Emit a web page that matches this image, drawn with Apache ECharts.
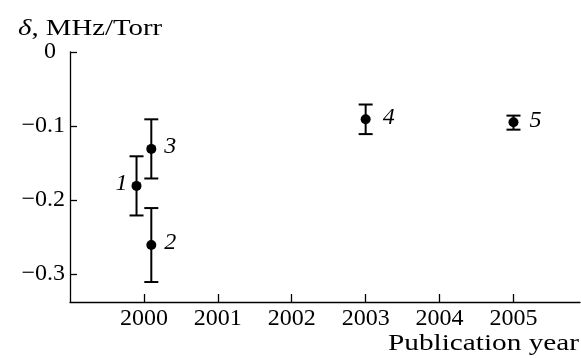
<!DOCTYPE html>
<html><head><meta charset="utf-8">
<script src="https://cdn.jsdelivr.net/npm/echarts@6/dist/echarts.min.js"></script>
<style>html,body{margin:0;padding:0;background:#fff}#c{width:581px;height:358px}</style>
</head><body><div id="c"></div>
<script>
// ---- data ----
const pointIds   = ['1', '2', '3', '4', '5'];
const years      = [1999.9, 2000.1, 2000.1, 2003.0, 2005.0];
const delta      = [-0.181, -0.261, -0.131, -0.091, -0.095];
const errLow     = [-0.221, -0.311, -0.171, -0.111, -0.105];
const errHigh    = [-0.141, -0.211, -0.091, -0.071, -0.086];
const xTickVals  = [2000, 2001, 2002, 2003, 2004, 2005];
const yTickVals  = [0, -0.1, -0.2, -0.3];
const yTickText  = ['0', '\u22120.1', '\u22120.2', '\u22120.3'];
const yTitle     = 'MHz/Torr';
const xTitle     = 'Publication year';

// ---- style (not data) ----
const FONT = 'Liberation Serif';
const labelOffsets = [-15, 19, 19, 23, 22];

const chart = echarts.init(document.getElementById('c'), null, {renderer: 'canvas'});
const seriesData = years.map((x, i) => [x, delta[i], errLow[i], errHigh[i], i]);

chart.setOption({
  animation: false,
  grid: {left: 70, right: 1, top: 52, bottom: 56},
  xAxis: {
    type: 'value', min: 1999, max: 2005.9,
    axisLine: {onZero: false, lineStyle: {color: '#000', width: 1.3}},
    axisTick: {inside: true, length: 8, customValues: xTickVals, lineStyle: {color: '#000', width: 1.3}},
    axisLabel: {customValues: xTickVals, color: '#000', fontFamily: FONT, fontSize: 24, margin: 5,
      formatter: v => String(Math.round(v))},
    splitLine: {show: false}
  },
  yAxis: {
    type: 'value', min: -0.338, max: 0,
    axisLine: {onZero: false, lineStyle: {color: '#000', width: 1.3}},
    axisTick: {inside: true, length: 7, customValues: yTickVals, lineStyle: {color: '#000', width: 1.3}},
    axisLabel: {
      customValues: yTickVals, color: '#000', fontFamily: FONT, fontSize: 24, margin: 5,
      formatter: v => {
        const k = yTickVals.findIndex(t => Math.abs(t - v) < 1e-6);
        if (k < 0) return '';
        return k === 0 ? '{z|' + yTickText[k] + '}' : yTickText[k];
      },
      rich: {z: {fontFamily: FONT, fontSize: 24, color: '#000', padding: [0, 9, 0, 0]}}
    },
    splitLine: {show: false}
  },
  graphic: [
    {type: 'text', left: 18, top: 17, scaleX: 1.2, style: {
      text: '{d|\u03B4}{n|, ' + yTitle + '}',
      rich: {
        d: {fontFamily: FONT, fontStyle: 'italic', fontSize: 24, fill: '#000'},
        n: {fontFamily: FONT, fontSize: 24, fill: '#000'}
      }
    }},
    {type: 'text', left: 388, top: 332, scaleX: 1.22, style: {text: xTitle, fontFamily: FONT, fontSize: 24, fill: '#000'}}
  ],
  series: [{
    type: 'custom',
    data: seriesData,
    renderItem: function (params, api) {
      const idx = api.value(4);
      const p = api.coord([api.value(0), api.value(1)]);
      const lo = api.coord([api.value(0), api.value(2)]);
      const hi = api.coord([api.value(0), api.value(3)]);
      const cw = 7;
      const ls = {stroke: '#000', lineWidth: 2};
      const off = labelOffsets[idx];
      return {
        type: 'group',
        children: [
          {type: 'line', shape: {x1: p[0], y1: lo[1], x2: p[0], y2: hi[1]}, style: ls},
          {type: 'line', shape: {x1: p[0] - cw, y1: lo[1], x2: p[0] + cw, y2: lo[1]}, style: ls},
          {type: 'line', shape: {x1: p[0] - cw, y1: hi[1], x2: p[0] + cw, y2: hi[1]}, style: ls},
          {type: 'circle', shape: {cx: p[0], cy: p[1], r: 5}, style: {fill: '#000'}},
          {type: 'text', x: p[0] + off, y: p[1] - 2, style: {
            text: pointIds[idx], fontFamily: FONT, fontStyle: 'italic', fontSize: 24,
            fill: '#000', align: 'center', verticalAlign: 'middle'
          }}
        ]
      };
    }
  }]
});
</script></body></html>
